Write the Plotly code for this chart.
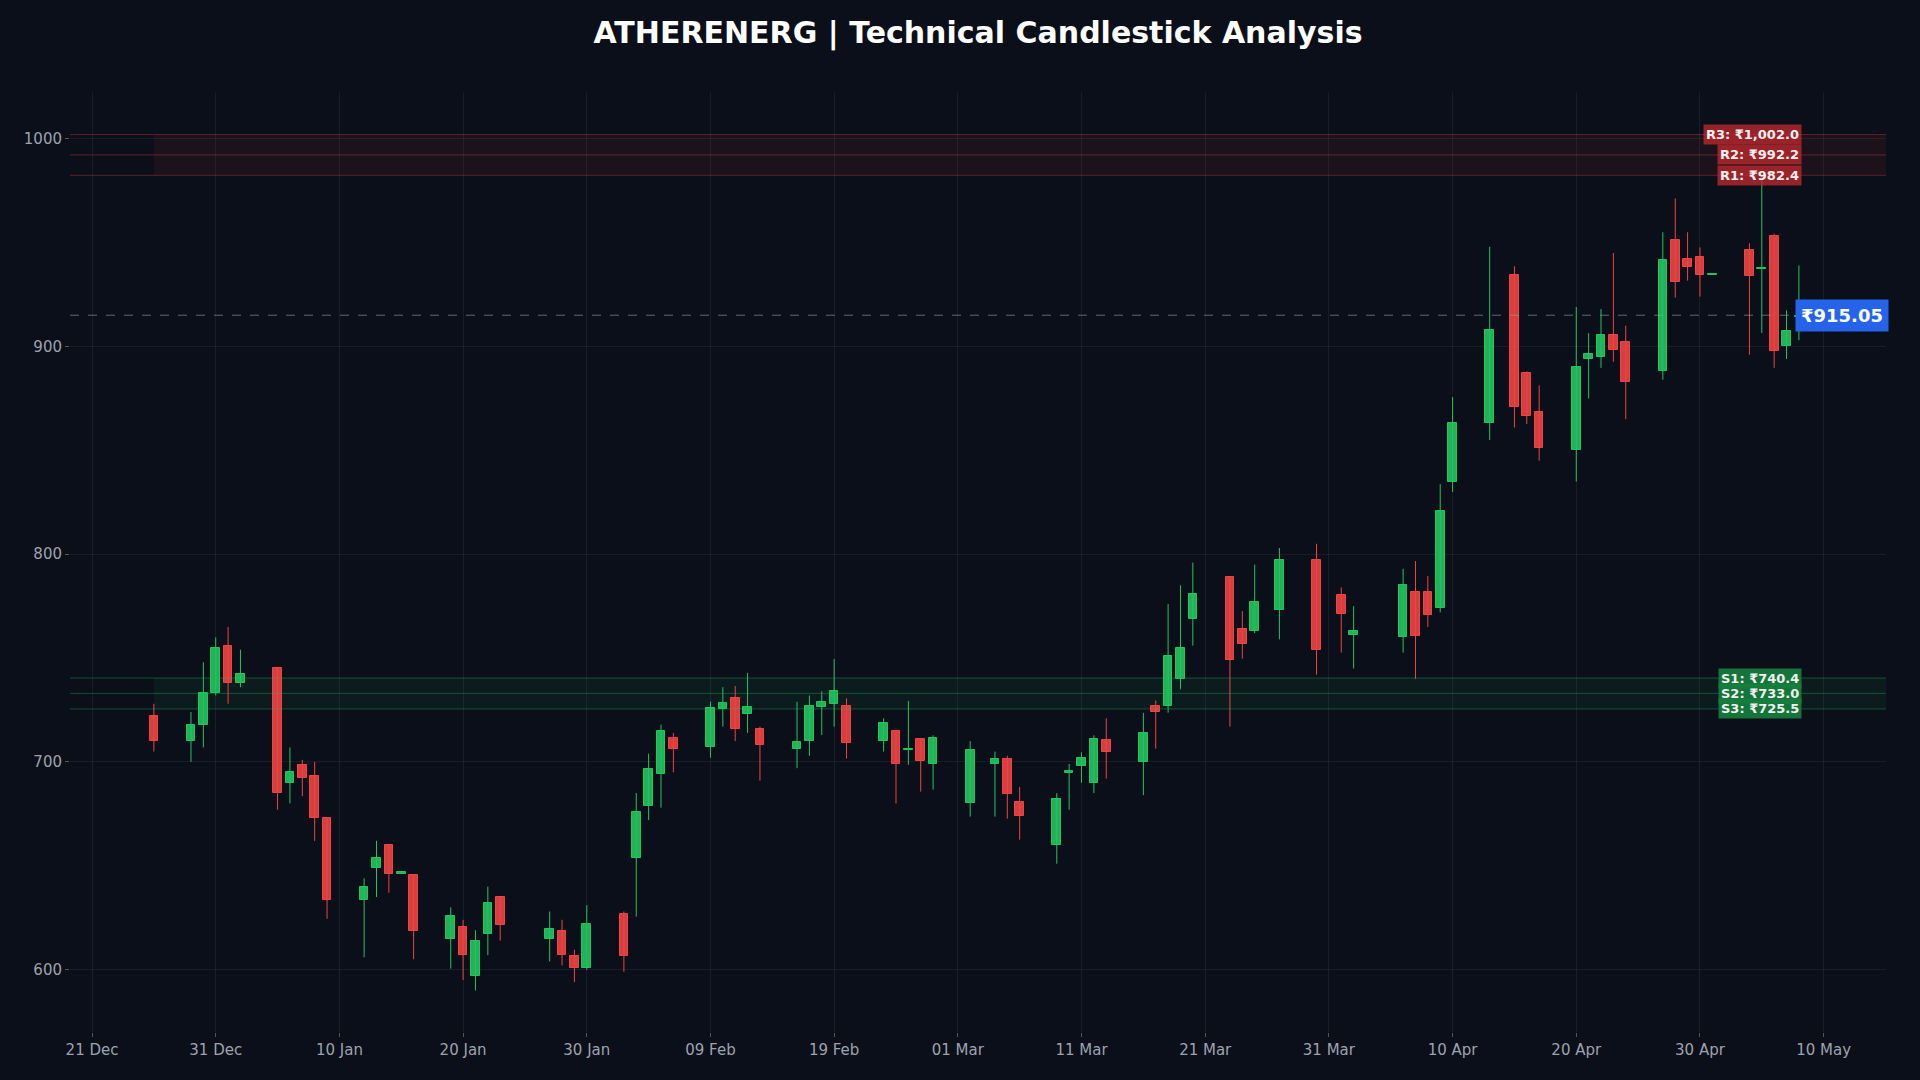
import plotly.graph_objects as go

dates = ["2025-12-26","2025-12-29","2025-12-30","2025-12-31","2026-01-01","2026-01-02",
"2026-01-05","2026-01-06","2026-01-07","2026-01-08","2026-01-09",
"2026-01-12","2026-01-13","2026-01-14","2026-01-15","2026-01-16",
"2026-01-19","2026-01-20","2026-01-21","2026-01-22","2026-01-23",
"2026-01-27","2026-01-28","2026-01-29","2026-01-30",
"2026-02-02","2026-02-03","2026-02-04","2026-02-05","2026-02-06",
"2026-02-09","2026-02-10","2026-02-11","2026-02-12","2026-02-13",
"2026-02-16","2026-02-17","2026-02-18","2026-02-19","2026-02-20",
"2026-02-23","2026-02-24","2026-02-25","2026-02-26","2026-02-27",
"2026-03-02","2026-03-04","2026-03-05","2026-03-06",
"2026-03-09","2026-03-10","2026-03-11","2026-03-12","2026-03-13",
"2026-03-16","2026-03-17","2026-03-18","2026-03-19","2026-03-20",
"2026-03-23","2026-03-24","2026-03-25","2026-03-27",
"2026-03-30","2026-04-01","2026-04-02",
"2026-04-06","2026-04-07","2026-04-08","2026-04-09","2026-04-10",
"2026-04-13","2026-04-15","2026-04-16","2026-04-17",
"2026-04-20","2026-04-21","2026-04-22","2026-04-23","2026-04-24",
"2026-04-27","2026-04-28","2026-04-29","2026-04-30","2026-05-01",
"2026-05-04","2026-05-05","2026-05-06","2026-05-07","2026-05-08"]

open_ = [722,710,718,733,756,738,
745,690,698.5,693,673,
633.5,649,660,646.5,645.5,
615,620.5,597,617,635,
614.7,618.6,606.5,601,
627,654,679,694,711.4,
707,725.7,731,723,715.7,
706,710,726.3,728,727,
710,714.8,706,711,699,
680,699,701.3,680.6,
660,695.2,698,690,710.4,
700,727,727,740,769,
789,764,763,773,
797,780.6,761,
760,781.6,781.6,774,835,
863,934.6,887.4,868.7,
850,894,894.7,905.7,902,
888,951.4,942.3,943.3,934.6,
946.6,937.5,953.4,900.4,914.5]

high = [728,724,748,760,765,754,
745.5,707,701,700,673,
644,662,660,647,646,
630,624,619,640,635.5,
628,624,609.6,631,
628,685,704,718,714,
729,736,736.6,742.8,717,
729,732,734,749.6,730.6,
721,715.4,729.4,711.2,712.8,
710,705,703,688,
685,699,704.6,712.8,721,
723.6,729.6,776,785,796,
789.5,772.6,795,803,
805,784,775,
793,796.7,789.5,833.7,875.6,
948,938.6,888,881.3,
919,906.4,918,945,910,
955,971.3,955,947.7,935,
949.7,982,954.3,917.4,939]

low = [705,700,707,732,728,736,
677,680,683.5,662,624.5,
606,635,637,646.5,605,
600.5,595,590,607,614,
604,602,594,600,
599,625.6,672,678,695,
702,717,710,714,691,
697,703,713,717,701.6,
705,680,698.7,685.7,686.7,
673.7,673.7,672.7,662.6,
651,677,690,685,692,
684,706.4,723.7,735,756,
717,749.7,762,759,
742,752.6,745,
752.6,740,765,772,830,
855,861,862.7,845,
835,875,889.7,892.6,865,
884,923.5,931.7,924,934.6,
896,906.5,889.7,894,903]

close = [710,718,733,755,738,742.5,
685,695,692.5,673,633.5,
640,654,646,647,618.6,
626,607,614,632,621.5,
619.5,607.3,601,622,
606.4,676,696.5,715,706,
726,728.2,716,726.3,708,
709.5,727,729,734,709,
718.6,699,706.6,700.3,711.4,
705.6,701.3,684.5,674,
682,695.8,702,711,705,
714,724,751,754.7,781,
749,757,777,797,
754,771,763,
785.4,760.8,770.5,820.7,863.4,
908,871,866.3,851,
890,896.4,905.7,898.5,883,
941.8,931.2,938.4,934.6,935,
934,938.2,897.6,907.6,915.05]

resistance_levels = [1002.0, 992.2, 982.4]
resistance_labels = ["R3: ₹1,002.0", "R2: ₹992.2", "R1: ₹982.4"]
support_levels = [740.4, 733.0, 725.5]
support_labels = ["S1: ₹740.4", "S2: ₹733.0", "S3: ₹725.5"]
current_price = 915.05
tick_start = "2025-12-21"

BG = "#0b0f19"
GREEN = "#22c55e"
RED = "#ef4444"
DAY_MS = 86400000

fig = go.Figure()
for up, col, fill in [(True, GREEN, "rgba(34,197,94,0.9)"), (False, RED, "rgba(239,68,68,0.9)")]:
    idx = [i for i in range(len(dates)) if (close[i] >= open_[i]) == up]
    wx, wy = [], []
    for i in idx:
        wx += [dates[i], dates[i], None]
        wy += [low[i], high[i], None]
    fig.add_trace(go.Scatter(x=wx, y=wy, mode="lines", line=dict(color=col, width=1),
                             hoverinfo="skip", showlegend=False))
    fig.add_trace(go.Bar(x=[dates[i] for i in idx],
                         y=[max(abs(close[i] - open_[i]), 0.8) for i in idx],
                         base=[min(close[i], open_[i]) - (0.4 if abs(close[i] - open_[i]) < 0.8 else 0) for i in idx],
                         width=DAY_MS * 0.7, marker=dict(color=fill, line=dict(color=col, width=1)),
                         showlegend=False))

zone_x0 = dates[0]
zone_x1 = "2026-05-16"
fig.add_shape(type="rect", xref="x", yref="y", x0=zone_x0, x1=zone_x1, y0=min(resistance_levels),
              y1=max(resistance_levels), fillcolor="rgba(239,68,68,0.07)", line_width=0, layer="below")
fig.add_shape(type="rect", xref="x", yref="y", x0=zone_x0, x1=zone_x1, y0=min(support_levels),
              y1=max(support_levels), fillcolor="rgba(34,197,94,0.07)", line_width=0, layer="below")

for lv, lab in zip(resistance_levels, resistance_labels):
    fig.add_shape(type="line", xref="paper", yref="y", x0=0, x1=1, y0=lv, y1=lv,
                  line=dict(color="rgba(239,68,68,0.35)", width=1))
    fig.add_annotation(x=dates[-1], y=lv, xref="x", yref="y", text=f"<b>{lab}</b>", showarrow=False,
                       xanchor="right", xshift=3, bgcolor="rgba(185,40,45,0.8)",
                       font=dict(color="#f1f1f1", size=13, family="DejaVu Sans"), borderpad=2)
for lv, lab in zip(support_levels, support_labels):
    fig.add_shape(type="line", xref="paper", yref="y", x0=0, x1=1, y0=lv, y1=lv,
                  line=dict(color="rgba(34,197,94,0.35)", width=1))
    fig.add_annotation(x=dates[-1], y=lv, xref="x", yref="y", text=f"<b>{lab}</b>", showarrow=False,
                       xanchor="right", xshift=3, bgcolor="rgba(21,128,61,0.9)",
                       font=dict(color="#f1f1f1", size=13, family="DejaVu Sans"), borderpad=2)

fig.add_shape(type="line", xref="paper", yref="y", x0=0, x1=1, y0=current_price, y1=current_price,
              line=dict(color="rgba(160,160,170,0.6)", width=1, dash="dash"))
fig.add_annotation(x=dates[-1], y=current_price, xref="x", yref="y", text=f"<b>₹{current_price:.2f}</b>",
                   showarrow=False, xanchor="left", xshift=-4, bgcolor="#2563eb",
                   font=dict(color="white", size=18, family="DejaVu Sans"), borderpad=5)

fig.update_layout(
    width=1920, height=1080, barmode="overlay", bargap=0,
    paper_bgcolor=BG, plot_bgcolor=BG,
    title=dict(text="<b>ATHERENERG | Technical Candlestick Analysis</b>", x=0.5, xref="paper",
               y=0.98, yanchor="top", xanchor="center",
               font=dict(color="white", size=30, family="DejaVu Sans")),
    margin=dict(l=70, r=34, t=92, b=48),
    font=dict(family="DejaVu Sans", color="#9ca3af", size=15),
)
fig.update_xaxes(type="date", range=["2025-12-19 05:15", "2026-05-15 01:00"],
                 tick0=tick_start, dtick=DAY_MS * 10, tickformat="%d %b",
                 showgrid=True, gridcolor="rgba(255,255,255,0.06)", zeroline=False,
                 ticks="outside", ticklen=4, tickcolor="#555", showline=False)
fig.update_yaxes(range=[570, 1022.5], dtick=100, showgrid=True,
                 gridcolor="rgba(255,255,255,0.06)", zeroline=False,
                 ticks="outside", ticklen=4, tickcolor="#555")

fig.write_html("out.html", config={"displayModeBar": False})
with open("out.html", encoding="utf-8") as f:
    html = f.read()
html = html.replace("<head>", "<head><style>html,body{margin:0;padding:0;background:#0b0f19;overflow:hidden}</style>", 1)
with open("out.html", "w", encoding="utf-8") as f:
    f.write(html)
